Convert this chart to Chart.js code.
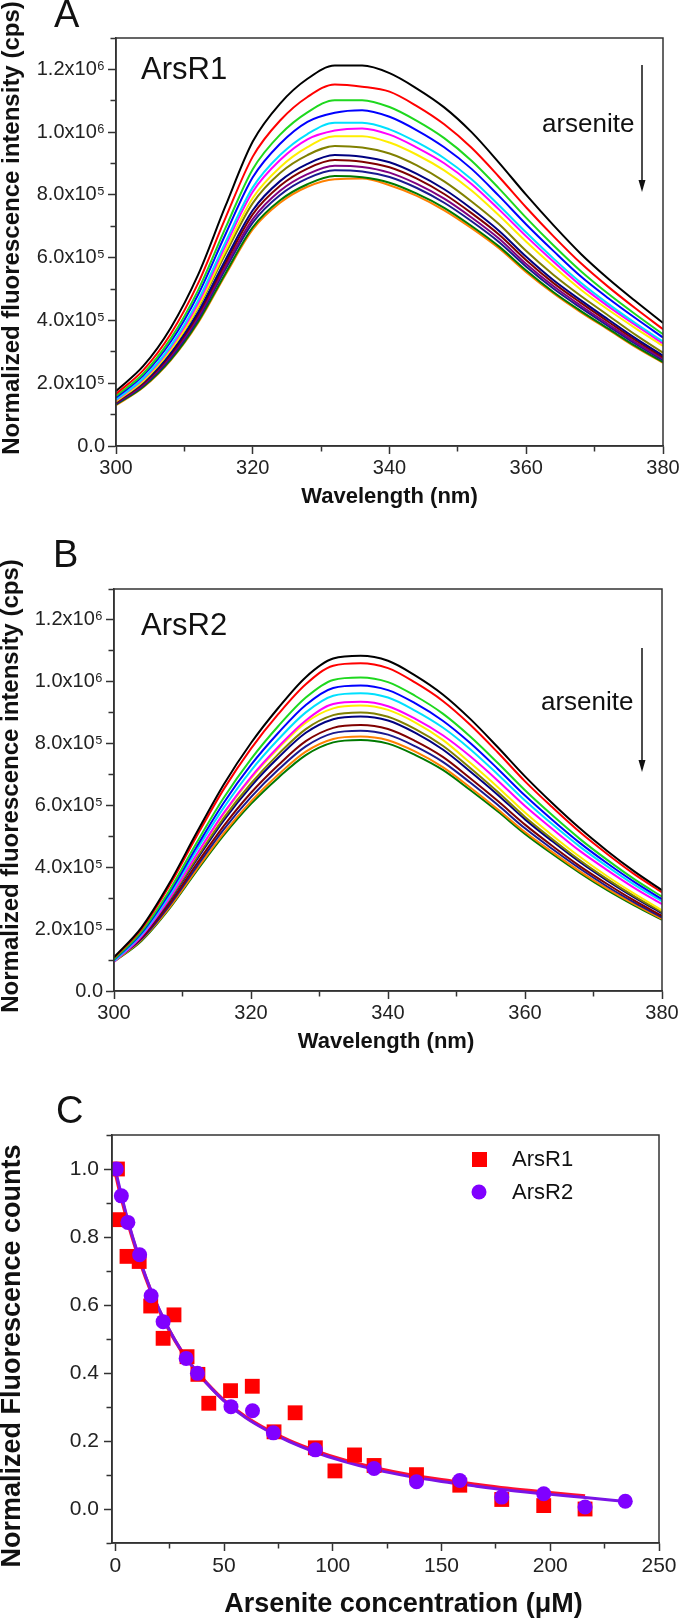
<!DOCTYPE html>
<html>
<head>
<meta charset="utf-8">
<title>ArsR1 / ArsR2 fluorescence quenching by arsenite</title>
<script src="https://cdn.jsdelivr.net/npm/chart.js@4.4.0/dist/chart.umd.min.js"></script>
<style>
  body { margin: 0; background: #fff; }
  #page { position: relative; width: 680px; height: 1623px; }
  canvas { position: absolute; left: 0; }
</style>
</head>
<body>
<div id="page">
  <canvas id="chartA" width="680" height="515" style="top:0px"></canvas>
  <canvas id="chartB" width="680" height="535" style="top:520px"></canvas>
  <canvas id="chartC" width="680" height="568" style="top:1055px"></canvas>
</div>
<script>
// ---------- data ----------

// emission wavelength (nm)
const wavelength = [300, 304, 308, 312, 316, 320, 324, 328, 332, 336, 340,
                    344, 348, 352, 356, 360, 364, 368, 372, 376, 380];

// ArsR1 spectra, in units of 1e5 cps, one row per arsenite addition (top curve first)
const arsR1Spectra = [
  [1.75, 2.55, 3.76, 5.45, 7.64, 9.70, 10.91, 11.70, 12.12, 12.12, 11.88, 11.39, 10.79, 10.00, 9.03, 8.00, 7.03, 6.12, 5.33, 4.61, 3.92],
  [1.66, 2.42, 3.57, 5.18, 7.26, 9.22, 10.37, 11.12, 11.52, 11.45, 11.29, 10.83, 10.25, 9.50, 8.58, 7.60, 6.68, 5.82, 5.07, 4.38, 3.72],
  [1.59, 2.31, 3.42, 4.96, 6.94, 8.82, 9.92, 10.63, 11.02, 11.02, 10.80, 10.36, 9.81, 9.09, 8.21, 7.27, 6.39, 5.57, 4.85, 4.19, 3.56],
  [1.54, 2.25, 3.32, 4.82, 6.74, 8.56, 9.63, 10.33, 10.62, 10.70, 10.49, 10.06, 9.52, 8.83, 7.97, 7.06, 6.21, 5.40, 4.71, 4.07, 3.46],
  [1.48, 2.16, 3.19, 4.64, 6.49, 8.24, 9.27, 9.94, 10.30, 10.30, 10.09, 9.68, 9.17, 8.50, 7.67, 6.80, 5.97, 5.20, 4.53, 3.91, 3.33],
  [1.46, 2.13, 3.14, 4.55, 6.38, 8.10, 9.11, 9.77, 10.05, 10.12, 9.92, 9.51, 9.01, 8.35, 7.54, 6.68, 5.87, 5.11, 4.45, 3.85, 3.27],
  [1.42, 2.07, 3.06, 4.44, 6.22, 7.90, 8.88, 9.52, 9.87, 9.87, 9.67, 9.28, 8.78, 8.14, 7.35, 6.51, 5.72, 4.98, 4.34, 3.75, 3.19],
  [1.46, 2.10, 3.06, 4.40, 6.12, 7.74, 8.70, 9.27, 9.56, 9.51, 9.32, 8.94, 8.43, 7.79, 7.07, 6.21, 5.45, 4.78, 4.16, 3.54, 2.97],
  [1.42, 2.04, 2.97, 4.26, 5.93, 7.51, 8.44, 8.99, 9.27, 9.22, 9.04, 8.67, 8.18, 7.56, 6.86, 6.03, 5.28, 4.64, 4.03, 3.43, 2.88],
  [1.39, 2.00, 2.92, 4.19, 5.83, 7.38, 8.29, 8.84, 9.11, 9.06, 8.88, 8.52, 8.03, 7.42, 6.74, 5.92, 5.19, 4.56, 3.96, 3.37, 2.83],
  [1.37, 1.96, 2.86, 4.11, 5.72, 7.23, 8.13, 8.66, 8.93, 8.89, 8.71, 8.35, 7.88, 7.28, 6.61, 5.80, 5.09, 4.47, 3.88, 3.30, 2.78],
  [1.34, 1.93, 2.81, 4.04, 5.63, 7.12, 8.00, 8.53, 8.79, 8.75, 8.57, 8.22, 7.75, 7.16, 6.50, 5.71, 5.01, 4.40, 3.82, 3.25, 2.73],
  [1.32, 1.89, 2.75, 3.96, 5.50, 6.97, 7.83, 8.34, 8.60, 8.56, 8.39, 8.04, 7.59, 7.01, 6.36, 5.59, 4.90, 4.30, 3.74, 3.18, 2.67],
  [1.30, 1.87, 2.73, 3.92, 5.45, 6.90, 7.75, 8.26, 8.50, 8.52, 8.31, 7.97, 7.51, 6.94, 6.30, 5.54, 4.86, 4.26, 3.71, 3.15, 2.65]
];

// ArsR2 spectra, in units of 1e5 cps
const arsR2Spectra = [
  [1.09, 2.05, 3.45, 5.09, 6.67, 8.02, 9.16, 10.15, 10.75, 10.84, 10.68, 10.20, 9.59, 8.80, 7.89, 6.94, 6.07, 5.26, 4.53, 3.86, 3.26],
  [1.07, 2.00, 3.37, 4.98, 6.52, 7.84, 8.96, 9.92, 10.52, 10.60, 10.44, 9.97, 9.38, 8.61, 7.72, 6.78, 5.94, 5.14, 4.43, 3.77, 3.19],
  [1.02, 1.92, 3.22, 4.77, 6.24, 7.50, 8.57, 9.49, 10.06, 10.14, 9.99, 9.54, 8.97, 8.23, 7.38, 6.49, 5.68, 4.92, 4.24, 3.61, 3.05],
  [1.00, 1.87, 3.14, 4.64, 6.08, 7.31, 8.35, 9.25, 9.80, 9.88, 9.73, 9.30, 8.74, 8.02, 7.19, 6.32, 5.53, 4.79, 4.13, 3.52, 2.97],
  [0.97, 1.82, 3.06, 4.53, 5.92, 7.13, 8.14, 9.01, 9.55, 9.63, 9.49, 9.06, 8.52, 7.82, 7.01, 6.16, 5.39, 4.67, 4.03, 3.43, 2.90],
  [0.94, 1.77, 2.97, 4.39, 5.75, 6.92, 7.90, 8.75, 9.28, 9.35, 9.21, 8.80, 8.27, 7.59, 6.81, 5.98, 5.24, 4.53, 3.91, 3.33, 2.81],
  [1.08, 1.85, 3.00, 4.38, 5.72, 6.88, 7.85, 8.68, 9.14, 9.23, 9.09, 8.68, 8.12, 7.38, 6.60, 5.77, 5.03, 4.34, 3.71, 3.14, 2.61],
  [1.05, 1.80, 2.93, 4.28, 5.59, 6.71, 7.66, 8.47, 8.92, 9.01, 8.87, 8.47, 7.93, 7.21, 6.44, 5.63, 4.91, 4.23, 3.62, 3.06, 2.55],
  [1.04, 1.78, 2.89, 4.22, 5.51, 6.62, 7.55, 8.35, 8.79, 8.88, 8.75, 8.35, 7.81, 7.10, 6.35, 5.55, 4.84, 4.17, 3.57, 3.02, 2.51],
  [1.01, 1.72, 2.80, 4.09, 5.33, 6.41, 7.31, 8.08, 8.51, 8.60, 8.47, 8.08, 7.57, 6.88, 6.15, 5.38, 4.69, 4.04, 3.46, 2.92, 2.43],
  [0.99, 1.68, 2.74, 4.00, 5.22, 6.27, 7.16, 7.91, 8.34, 8.42, 8.29, 7.91, 7.41, 6.74, 6.02, 5.26, 4.59, 3.96, 3.38, 2.86, 2.38],
  [0.96, 1.65, 2.67, 3.91, 5.10, 6.13, 7.00, 7.74, 8.15, 8.23, 8.11, 7.74, 7.24, 6.58, 5.88, 5.14, 4.49, 3.87, 3.31, 2.80, 2.33],
  [0.95, 1.62, 2.64, 3.86, 5.03, 6.05, 6.90, 7.63, 8.04, 8.12, 8.00, 7.63, 7.15, 6.50, 5.81, 5.08, 4.43, 3.82, 3.26, 2.76, 2.30]
];

// panel C: normalized counts vs arsenite (uM)
const r1Conc   = [1, 1.4, 5.4, 11, 16.3, 22, 27, 33, 38, 43, 53, 63, 73, 82.7, 92, 101, 110, 119, 138.5, 158.4, 177.7, 197, 216];
const r1Counts = [1.0, 0.851, 0.743, 0.728, 0.597, 0.502, 0.571, 0.448, 0.396, 0.311, 0.348, 0.361, 0.227, 0.283, 0.180, 0.112, 0.159, 0.128, 0.101, 0.070, 0.028, 0.010, 0.0];
const r2Conc   = [0.5, 2.8, 5.8, 11.2, 16.5, 22, 32.6, 37.8, 53.2, 63.1, 72.7, 92, 119, 138.5, 158.4, 177.7, 197, 216, 234.5];
const r2Counts = [1.0, 0.921, 0.843, 0.748, 0.627, 0.551, 0.443, 0.399, 0.301, 0.289, 0.224, 0.174, 0.119, 0.080, 0.084, 0.035, 0.045, 0.006, 0.023];

// fitted curves
const fitR1Conc = [0, 2, 5, 8, 12, 16, 20, 25, 30, 36, 42, 50, 60, 70, 80, 92, 105, 120, 135, 150, 165, 180, 200, 216];
const fitR1     = [0.99, 0.935, 0.862, 0.795, 0.716, 0.647, 0.587, 0.523, 0.469, 0.415, 0.371, 0.32, 0.271, 0.233, 0.201, 0.171, 0.144, 0.12, 0.101, 0.086, 0.073, 0.061, 0.048, 0.038];
const fitR2Conc = [0, 2, 5, 8, 12, 16, 20, 25, 30, 36, 42, 50, 60, 70, 80, 92, 105, 120, 135, 150, 165, 180, 200, 216, 235];
const fitR2     = [1.0, 0.945, 0.868, 0.80, 0.72, 0.65, 0.59, 0.525, 0.47, 0.415, 0.37, 0.318, 0.268, 0.23, 0.198, 0.167, 0.14, 0.115, 0.096, 0.081, 0.068, 0.056, 0.043, 0.034, 0.022];

// tick labels
const specXTicks  = [300, 320, 340, 360, 380];
const specYTicks  = [0, 2, 4, 6, 8, 10, 12];
const specYLabels = ['0.0', '2.0x10⁵', '4.0x10⁵', '6.0x10⁵', '8.0x10⁵', '1.0x10⁶', '1.2x10⁶'];
const concTicks   = [0, 50, 100, 150, 200, 250];
const concMinor   = [0, 25, 50, 75, 100, 125, 150, 175, 200, 225, 250];
const countTicks  = [0, 0.2, 0.4, 0.6, 0.8, 1.0];
const countMinor  = [-0.1, 0, 0.1, 0.2, 0.3, 0.4, 0.5, 0.6, 0.7, 0.8, 0.9, 1.0, 1.1];

// ---------- styles ----------
const FONT = "'Liberation Sans', Arial, sans-serif";
const AXIS = '#333';
const colorsA = ['#000000', '#ff0000', '#1ed81e', '#0000ff', '#00e0ff', '#ff00ff', '#ffee00',
                 '#808000', '#000080', '#800000', '#800080', '#1a1a90', '#007a00', '#ff8000'];
const colorsB = ['#000000', '#ff0000', '#1ed81e', '#0000ff', '#00e0ff', '#ff00ff', '#ffee00',
                 '#808000', '#000080', '#800000', '#1a1a90', '#ff8000', '#007a00'];

function isIn(list, v) {
  return list.some(m => Math.abs(m - v) < 1e-6);
}

// minor ticks: only the inner 5px of the tick mark
function gridOpts(majors, horizontal) {
  return {
    drawOnChartArea: false,
    tickLength: 8,
    tickColor: AXIS,
    tickWidth: 1.5,
    tickBorderDash: ctx => isIn(majors, ctx.tick.value) ? [] : (horizontal ? [5, 100] : [0, 2.5, 5, 100])
  };
}

function decor(draw) {
  return {
    id: 'decor',
    afterDraw(chart) {
      const ctx = chart.ctx, a = chart.chartArea;
      ctx.save();
      ctx.strokeStyle = AXIS;
      ctx.lineWidth = 1.5;
      ctx.strokeRect(a.left, a.top, a.right - a.left, a.bottom - a.top);
      ctx.fillStyle = '#111';
      draw(ctx, a);
      ctx.restore();
    }
  };
}

function label(ctx, str, x, y, font, align) {
  ctx.font = font;
  ctx.textAlign = align || 'left';
  ctx.textBaseline = 'alphabetic';
  ctx.fillText(str, x, y);
}

function centered(ctx, str, x, y, font, rotate) {
  ctx.save();
  ctx.translate(x, y);
  if (rotate) ctx.rotate(-Math.PI / 2);
  ctx.font = font;
  ctx.textAlign = 'center';
  ctx.textBaseline = 'middle';
  ctx.fillText(str, 0, 0);
  ctx.restore();
}

function centeredLeft(ctx, str, x, y) {
  ctx.font = '22px ' + FONT;
  ctx.textAlign = 'left';
  ctx.textBaseline = 'middle';
  ctx.fillText(str, x, y);
}

function arrowDown(ctx, x, y1, y2) {
  ctx.strokeStyle = '#111';
  ctx.lineWidth = 1.5;
  ctx.beginPath();
  ctx.moveTo(x, y1);
  ctx.lineTo(x, y2 - 10);
  ctx.stroke();
  ctx.beginPath();
  ctx.moveTo(x - 3.5, y2 - 12);
  ctx.lineTo(x + 3.5, y2 - 12);
  ctx.lineTo(x, y2);
  ctx.closePath();
  ctx.fill();
}

function spectrumChart(id, rows, colors, geom, draw) {
  const datasets = rows.map((row, i) => ({
    data: wavelength.map((w, j) => ({ x: w, y: row[j] })),
    borderColor: colors[i],
    borderWidth: 2,
    pointRadius: 0,
    cubicInterpolationMode: 'monotone',
    fill: false
  }));
  return new Chart(document.getElementById(id), {
    type: 'line',
    data: { datasets },
    options: {
      responsive: false,
      animation: false,
      devicePixelRatio: 1,
      layout: { padding: { left: 0, top: geom.top, right: geom.right, bottom: 0 } },
      plugins: { legend: { display: false }, tooltip: { enabled: false } },
      scales: {
        x: {
          type: 'linear', min: 300, max: 380,
          afterFit: s => { s.height = geom.xh; s.paddingLeft = 0; s.paddingRight = 0; },
          border: { color: AXIS, width: 1.5 },
          grid: gridOpts(specXTicks, true),
          ticks: {
            stepSize: 10, autoSkip: false, maxRotation: 0, padding: 2, color: '#222',
            font: { family: FONT, size: 20 },
            callback: v => isIn(specXTicks, v) ? String(v) : ''
          }
        },
        y: {
          min: 0, max: 13,
          afterFit: s => { s.width = geom.yw; },
          border: { color: AXIS, width: 1.5 },
          grid: gridOpts(specYTicks, false),
          ticks: {
            stepSize: 1, autoSkip: false, padding: 3, color: '#222',
            font: { family: FONT, size: 20 },
            callback: v => {
              const i = specYTicks.indexOf(v);
              return i < 0 ? '' : specYLabels[i];
            }
          }
        }
      }
    },
    plugins: [decor(draw)]
  });
}

const titleFont = 'bold 22px ' + FONT;
const yTitleFont = 'bold 24px ' + FONT;
const yTitleText = 'Normalized fluorescence intensity (cps)';
const letterFont = '38px ' + FONT;

// ---------- panel A ----------
spectrumChart('chartA', arsR1Spectra, colorsA, { top: 38, right: 17, xh: 69, yw: 116 }, (ctx, a) => {
  label(ctx, 'A', a.left - 62, a.top - 11, letterFont);
  label(ctx, 'ArsR1', a.left + 25, a.top + 41, '31px ' + FONT);
  label(ctx, 'arsenite', a.left + 426, a.top + 94, '26px ' + FONT);
  arrowDown(ctx, a.right - 21, a.top + 27, a.top + 154);
  centered(ctx, yTitleText, 12, (a.top + a.bottom) / 2 - 14, yTitleFont, true);
  centered(ctx, 'Wavelength (nm)', (a.left + a.right) / 2, a.bottom + 51, titleFont, false);
});

// ---------- panel B ----------
spectrumChart('chartB', arsR2Spectra, colorsB, { top: 69, right: 18, xh: 64, yw: 114 }, (ctx, a) => {
  label(ctx, 'B', a.left - 61, a.top - 22, letterFont);
  label(ctx, 'ArsR2', a.left + 27, a.top + 46, '31px ' + FONT);
  label(ctx, 'arsenite', a.left + 427, a.top + 121, '26px ' + FONT);
  arrowDown(ctx, a.right - 20, a.top + 59, a.top + 183);
  centered(ctx, yTitleText, 11, (a.top + a.bottom) / 2 - 4, yTitleFont, true);
  centered(ctx, 'Wavelength (nm)', (a.left + a.right) / 2 - 2, a.bottom + 51, titleFont, false);
});

// ---------- panel C ----------
const RED = '#ff0000';
const VIOLET = '#8000ff';

new Chart(document.getElementById('chartC'), {
  type: 'scatter',
  data: {
    datasets: [
      { label: 'ArsR2', data: r2Conc.map((x, i) => ({ x, y: r2Counts[i] })),
        pointStyle: 'circle', pointRadius: 7.5, backgroundColor: VIOLET, borderWidth: 0 },
      { label: 'ArsR1', data: r1Conc.map((x, i) => ({ x, y: r1Counts[i] })),
        pointStyle: 'rect', pointRadius: 10.5, backgroundColor: RED, borderWidth: 0 },
      { type: 'line', label: 'ArsR2 fit', data: fitR2Conc.map((x, i) => ({ x, y: fitR2[i] })),
        borderColor: '#7a14e6', borderWidth: 3, pointRadius: 0, cubicInterpolationMode: 'monotone', fill: false },
      { type: 'line', label: 'ArsR1 fit', data: fitR1Conc.map((x, i) => ({ x, y: fitR1[i] })),
        borderColor: '#ff1030', borderWidth: 3.5, pointRadius: 0, cubicInterpolationMode: 'monotone', fill: false }
    ]
  },
  options: {
    responsive: false,
    animation: false,
    devicePixelRatio: 1,
    layout: { padding: { left: 0, top: 80, right: 21, bottom: 0 } },
    plugins: { legend: { display: false }, tooltip: { enabled: false } },
    scales: {
      x: {
        type: 'linear', min: -1.5, max: 250,
        afterBuildTicks: s => { s.ticks = concMinor.map(v => ({ value: v })); },
        afterFit: s => { s.height = 80; s.paddingLeft = 0; s.paddingRight = 0; },
        border: { color: AXIS, width: 1.5 },
        grid: gridOpts(concTicks, true),
        ticks: {
          autoSkip: false, maxRotation: 0, padding: 3, color: '#222',
          font: { family: FONT, size: 21 },
          callback: v => isIn(concTicks, v) ? String(v) : ''
        }
      },
      y: {
        min: -0.1, max: 1.1,
        afterBuildTicks: s => { s.ticks = countMinor.map(v => ({ value: v })); },
        afterFit: s => { s.width = 112; },
        border: { color: AXIS, width: 1.5 },
        grid: gridOpts(countTicks, false),
        ticks: {
          autoSkip: false, padding: 5, color: '#222',
          font: { family: FONT, size: 21 },
          callback: v => isIn(countTicks, v) ? v.toFixed(1) : ''
        }
      }
    }
  },
  plugins: [decor((ctx, a) => {
    label(ctx, 'C', a.left - 56, a.top - 12, letterFont);
    // legend
    ctx.fillStyle = RED;
    ctx.fillRect(a.left + 360, a.top + 17, 15, 15);
    ctx.fillStyle = VIOLET;
    ctx.beginPath();
    ctx.arc(a.left + 367, a.top + 57, 7.5, 0, Math.PI * 2);
    ctx.fill();
    ctx.fillStyle = '#111';
    centeredLeft(ctx, 'ArsR1', a.left + 400, a.top + 25);
    centeredLeft(ctx, 'ArsR2', a.left + 400, a.top + 58);
    centered(ctx, 'Normalized Fluorescence counts', 13, (a.top + a.bottom) / 2 + 17, 'bold 27px ' + FONT, true);
    centered(ctx, 'Arsenite concentration (\u03BCM)', (a.left + a.right) / 2 + 18, a.bottom + 62, 'bold 27px ' + FONT, false);
  })]
});
</script>
</body>
</html>
